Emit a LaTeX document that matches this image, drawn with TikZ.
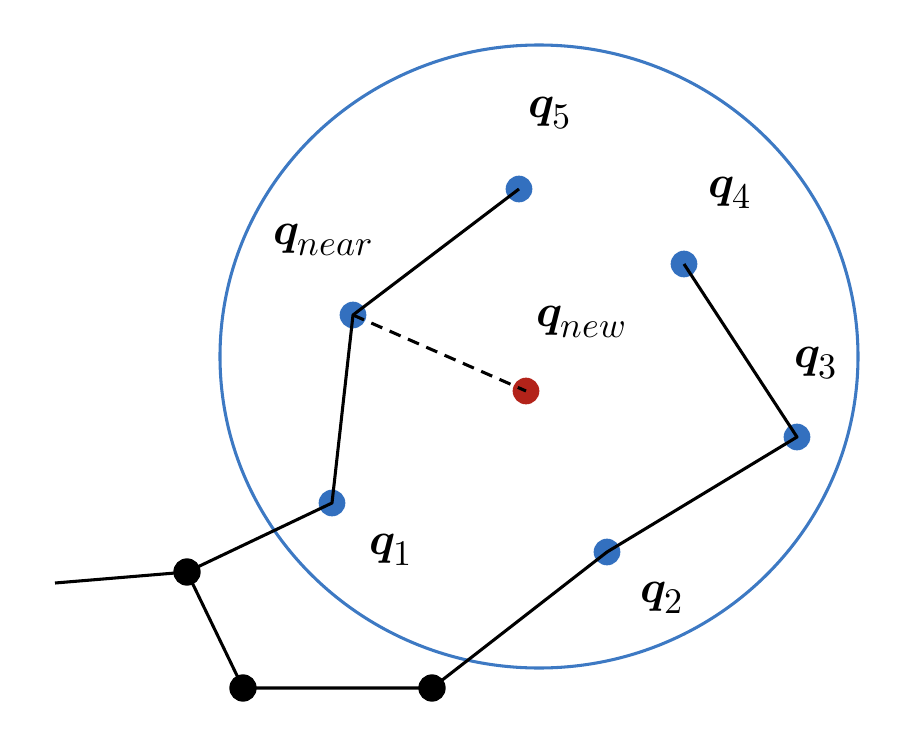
\documentclass[tikz,border=0pt]{standalone}
\usepackage{unicode-math}
\setmathfont{Latin Modern Math}
\DeclareMathSizes{34}{34}{27}{20}
\definecolor{dotblue}{HTML}{3370BF}
\definecolor{ringblue}{HTML}{3D79C3}
\definecolor{dotred}{HTML}{B3231A}
\tikzset{
  bluedot/.style={circle,fill=dotblue,inner sep=0pt,minimum size=20pt},
  reddot/.style={circle,fill=dotred,inner sep=0pt,minimum size=20pt},
  blackdot/.style={circle,fill=black,inner sep=0pt,minimum size=20.5pt},
  edge/.style={line width=2.3pt,black,line join=round},
  dashedge/.style={line width=2.3pt,black,dash pattern=on 9pt off 6pt},
  ring/.style={line width=2.3pt,ringblue},
  lab/.style={inner sep=0pt,font=\fontsize{34}{38}\selectfont}
}
\begin{document}
\begin{tikzpicture}[x=0.75pt,y=-0.75pt]
\useasboundingbox (0,0) rectangle (922,746);
\draw[ring] (539,356.5) ellipse [x radius=319, y radius=311.5];
% dots
\node[bluedot] (q5) at (519,189) {};
\node[bluedot] (q4) at (684,264) {};
\node[bluedot] (qnear) at (353,315) {};
\node[reddot] (qnew) at (526,391) {};
\node[bluedot] (q3) at (797,437) {};
\node[bluedot] (q1) at (332,503) {};
\node[bluedot] (q2) at (607,552) {};
\node[blackdot] (b1) at (187,572) {};
\node[blackdot] (b2) at (243,688) {};
\node[blackdot] (b3) at (432,688) {};
\coordinate (free) at (55,583);
% connectors
\draw[edge] (free) -- (b1.center);
\draw[edge] (b1.center) -- (q1.center) -- (qnear.center) -- (q5.center);
\draw[edge] (b1.center) -- (b2.center) -- (b3.center) -- (q2.center) -- (q3.center) -- (q4.center);
\draw[dashedge] (qnear.center) -- (qnew.center);
% labels
\node[lab] (l5) at (550,113) {$\symbfit{q}_5$};
\node[lab] (l4) at (730,193) {$\symbfit{q}_4$};
\node[lab] (lnear) at (323,240) {$\symbfit{q}_{near}$};
\node[lab] (lnew) at (581,322) {$\symbfit{q}_{new}$};
\node[lab] (l3) at (816,363) {$\symbfit{q}_3$};
\node[lab] (l1) at (391,550) {$\symbfit{q}_1$};
\node[lab] (l2) at (662,598) {$\symbfit{q}_2$};
\end{tikzpicture}
\end{document}
